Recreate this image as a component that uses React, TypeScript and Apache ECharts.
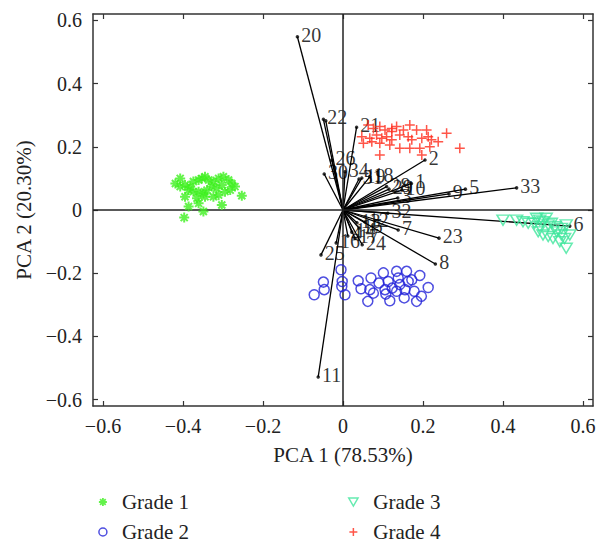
import React, { useEffect, useRef } from "react";
import * as echarts from "echarts";

// Tick values
const xTicks = [-0.6, -0.4, -0.2, 0, 0.2, 0.4, 0.6];
const yTicks = [-0.6, -0.4, -0.2, 0, 0.2, 0.4, 0.6];

// Loading vectors (biplot arrows)
const vectorNames = ["20", "22", "27", "21", "2", "26", "30", "34", "31", "19", "18", "28", "29", "1", "10", "3", "9", "5", "33", "6", "32", "7", "23", "8", "12", "13", "15", "14", "4", "17", "24", "16", "25", "11"];
const vectorX = [-0.114, -0.049, -0.043, 0.034, 0.205, -0.028, -0.047, 0.005, 0.040, 0.047, 0.067, 0.109, 0.115, 0.171, 0.147, 0.137, 0.265, 0.306, 0.434, 0.567, 0.112, 0.138, 0.240, 0.231, 0.055, 0.035, 0.040, 0.022, 0.012, 0.030, 0.048, -0.017, -0.055, -0.062];
const vectorY = [0.548, 0.287, 0.282, 0.262, 0.158, 0.158, 0.114, 0.121, 0.098, 0.101, 0.105, 0.074, 0.066, 0.084, 0.063, 0.038, 0.051, 0.066, 0.070, -0.051, -0.010, -0.063, -0.089, -0.171, -0.038, -0.040, -0.057, -0.070, -0.082, -0.090, -0.110, -0.104, -0.142, -0.528];
const hiddenLabels = ["27"];

// Scores
const grade1X = [-0.407, -0.419, -0.407, -0.395, -0.382, -0.374, -0.361, -0.353, -0.345, -0.336, -0.324, -0.311, -0.299, -0.286, -0.278, -0.270, -0.282, -0.303, -0.316, -0.328, -0.340, -0.349, -0.361, -0.374, -0.386, -0.395, -0.365, -0.345, -0.324, -0.311, -0.253, -0.361, -0.386, -0.303, -0.349, -0.397, -0.295];
const grade1Y = [0.100, 0.084, 0.074, 0.079, 0.074, 0.090, 0.095, 0.100, 0.105, 0.095, 0.090, 0.100, 0.105, 0.095, 0.084, 0.074, 0.063, 0.079, 0.069, 0.074, 0.063, 0.053, 0.058, 0.058, 0.063, 0.042, 0.037, 0.042, 0.042, 0.047, 0.045, 0.021, 0.011, 0.016, -0.005, -0.024, 0.058];

const grade2X = [-0.072, -0.049, -0.047, -0.005, -0.002, -0.003, 0.005, 0.038, 0.045, 0.062, 0.070, 0.067, 0.076, 0.090, 0.101, 0.107, 0.113, 0.117, 0.123, 0.134, 0.138, 0.142, 0.134, 0.153, 0.159, 0.155, 0.163, 0.172, 0.178, 0.184, 0.192, 0.196, 0.213, 0.105];
const grade2Y = [-0.268, -0.228, -0.252, -0.189, -0.226, -0.242, -0.268, -0.224, -0.249, -0.289, -0.215, -0.252, -0.263, -0.231, -0.199, -0.266, -0.226, -0.287, -0.247, -0.194, -0.215, -0.236, -0.257, -0.278, -0.194, -0.252, -0.226, -0.221, -0.257, -0.289, -0.207, -0.273, -0.245, -0.252];

const grade3X = [0.400, 0.434, 0.450, 0.463, 0.479, 0.492, 0.500, 0.508, 0.513, 0.488, 0.500, 0.513, 0.525, 0.534, 0.546, 0.554, 0.567, 0.558, 0.530, 0.521, 0.492, 0.542, 0.558, 0.484, 0.546];
const grade3Y = [-0.032, -0.032, -0.037, -0.042, -0.042, -0.032, -0.037, -0.026, -0.047, -0.069, -0.079, -0.084, -0.090, -0.069, -0.058, -0.090, -0.079, -0.121, -0.053, -0.042, -0.053, -0.100, -0.047, -0.026, -0.079];

const grade4X = [0.063, 0.076, 0.092, 0.105, 0.122, 0.134, 0.167, 0.184, 0.209, 0.259, 0.047, 0.067, 0.084, 0.097, 0.109, 0.122, 0.142, 0.163, 0.172, 0.197, 0.213, 0.221, 0.238, 0.051, 0.072, 0.092, 0.117, 0.142, 0.167, 0.192, 0.217, 0.292, 0.092, 0.197, 0.151, 0.122];
const grade4Y = [0.269, 0.258, 0.264, 0.253, 0.258, 0.264, 0.269, 0.253, 0.253, 0.243, 0.232, 0.227, 0.237, 0.227, 0.232, 0.222, 0.237, 0.232, 0.222, 0.227, 0.232, 0.222, 0.216, 0.211, 0.216, 0.211, 0.206, 0.195, 0.195, 0.195, 0.200, 0.195, 0.174, 0.174, 0.253, 0.248];

const seriesNames = ["Grade 1", "Grade 2", "Grade 3", "Grade 4"];
const seriesColors = ["#3df01e", "#2222d8", "#3ee69c", "#ff2a1a"];

const FONT = "Liberation Serif";

const zip = (xs: number[], ys: number[]) => xs.map((x, i) => [x, ys[i]]);

const fmt = (v: number) => {
  if (Math.abs(v) < 1e-9) return "0";
  const s = Math.abs(v).toFixed(1);
  return v < 0 ? "\u2212" + s : s;
};

export default function App() {
  const ref = useRef<HTMLDivElement>(null);
  useEffect(() => {
    document.body.style.margin = "0";
    if (!ref.current) return;
    const chart = echarts.init(ref.current, null, { renderer: "svg" });

    const axisLineStyle = { color: "#333", width: 1.5 };
    const baseX = {
      type: "value" as const,
      min: -0.625,
      max: 0.625,
      splitLine: { show: false },
      axisLine: { show: true, onZero: false, lineStyle: axisLineStyle },
      axisTick: { show: true, inside: true, length: 5, customValues: xTicks, lineStyle: { color: "#333", width: 1.2 } },
    };
    const baseY = {
      type: "value" as const,
      min: -0.62,
      max: 0.62,
      splitLine: { show: false },
      axisLine: { show: true, onZero: false, lineStyle: axisLineStyle },
      axisTick: { show: true, inside: true, length: 5, customValues: yTicks, lineStyle: { color: "#333", width: 1.2 } },
    };

    const asterisk = "path://M5,0L5,10M0,5L10,5M1.5,1.5L8.5,8.5M8.5,1.5L1.5,8.5";
    const plus = "path://M5,0L5,10M0,5L10,5";
    const triDown = "path://M0,0L10,0L5,8.66Z";
    const ringPath = "path://M10,5A5,5 0 1,1 0,5A5,5 0 1,1 10,5Z";
    const legendSymbols = [asterisk, ringPath, triDown, plus];

    const legendText = { fontFamily: FONT, fontSize: 21, color: "#222", lineHeight: 22, padding: [0, 0, 0, 10] };
    const legendItem = (i: number) => ({
      name: seriesNames[i],
      icon: legendSymbols[i],
      itemStyle: { color: "transparent", borderColor: seriesColors[i], borderWidth: i === 0 ? 1.8 : 1.5 },
    });

    const option: any = {
      animation: false,
      backgroundColor: "#fff",
      textStyle: { fontFamily: FONT },
      grid: { left: 93, right: 14, top: 14, bottom: 142 },
      xAxis: [
        {
          ...baseX,
          position: "bottom",
          name: "PCA 1 (78.53%)",
          nameLocation: "middle",
          nameGap: 38,
          nameTextStyle: { fontFamily: FONT, fontSize: 21, color: "#222" },
          axisLabel: { show: true, customValues: xTicks, formatter: fmt, fontFamily: FONT, fontSize: 20, color: "#222", margin: 10 },
        },
        {
          ...baseX,
          position: "top",
          axisLabel: { show: false },
        },
      ],
      yAxis: [
        {
          ...baseY,
          position: "left",
          name: "PCA 2 (20.30%)",
          nameLocation: "middle",
          nameGap: 56,
          nameTextStyle: { fontFamily: FONT, fontSize: 21, color: "#222" },
          axisLabel: { show: true, customValues: yTicks, formatter: fmt, fontFamily: FONT, fontSize: 20, color: "#222", margin: 11 },
        },
        {
          ...baseY,
          position: "right",
          axisLabel: { show: false },
        },
      ],
      legend: [
        {
          data: [legendItem(0), legendItem(1)],
          orient: "vertical",
          left: 93,
          top: 486,
          itemWidth: 8,
          itemHeight: 8,
          itemGap: 8,
          textStyle: legendText,
        },
        {
          data: [legendItem(2), legendItem(3)],
          orient: "vertical",
          left: 343,
          top: 486,
          itemWidth: 10,
          itemHeight: 8,
          itemGap: 8,
          textStyle: legendText,
        },
      ],
      series: [
        {
          type: "custom",
          name: "vectors",
          z: 3,
          silent: true,
          data: zip(vectorX, vectorY),
          renderItem: (params: any, api: any) => {
            const p0 = api.coord([0, 0]);
            const p1 = api.coord([api.value(0), api.value(1)]);
            return {
              type: "line",
              shape: { x1: p0[0], y1: p0[1], x2: p1[0], y2: p1[1] },
              style: { stroke: "#000", lineWidth: 1.3 },
            };
          },
        },
        {
          type: "scatter",
          name: "tips",
          z: 4,
          silent: true,
          symbol: "circle",
          symbolSize: 3.5,
          itemStyle: { color: "#000" },
          data: vectorNames.map((n, i) => ({
            name: n,
            value: [vectorX[i], vectorY[i]],
            label: hiddenLabels.includes(n) ? { show: false } : undefined,
          })),
          label: {
            show: true,
            position: "right",
            distance: 2,
            offset: [0, -2],
            formatter: "{b}",
            fontFamily: FONT,
            fontSize: 20,
            color: "#000",
          },
          markLine: {
            silent: true,
            symbol: "none",
            label: { show: false },
            lineStyle: { color: "#222", width: 1.5, type: "solid" },
            data: [{ xAxis: 0 }, { yAxis: 0 }],
          },
        },
        {
          type: "scatter",
          name: seriesNames[0],
          z: 5,
          symbol: asterisk,
          symbolSize: 10,
          itemStyle: { color: "transparent", borderColor: seriesColors[0], borderWidth: 2 },
          data: zip(grade1X, grade1Y),
        },
        {
          type: "scatter",
          name: seriesNames[1],
          z: 5,
          symbol: "circle",
          symbolSize: 10,
          itemStyle: { color: "transparent", borderColor: seriesColors[1], borderWidth: 1.5 },
          data: zip(grade2X, grade2Y),
        },
        {
          type: "scatter",
          name: seriesNames[2],
          z: 5,
          symbol: triDown,
          symbolSize: [12, 10],
          itemStyle: { color: "transparent", borderColor: seriesColors[2], borderWidth: 1.5 },
          data: zip(grade3X, grade3Y),
        },
        {
          type: "scatter",
          name: seriesNames[3],
          z: 5,
          symbol: plus,
          symbolSize: 10,
          itemStyle: { color: "transparent", borderColor: seriesColors[3], borderWidth: 1.5 },
          data: zip(grade4X, grade4Y),
        },
      ],
    };

    chart.setOption(option);
    return () => chart.dispose();
  }, []);

  return <div ref={ref} style={{ width: 607, height: 548 }} />;
}
